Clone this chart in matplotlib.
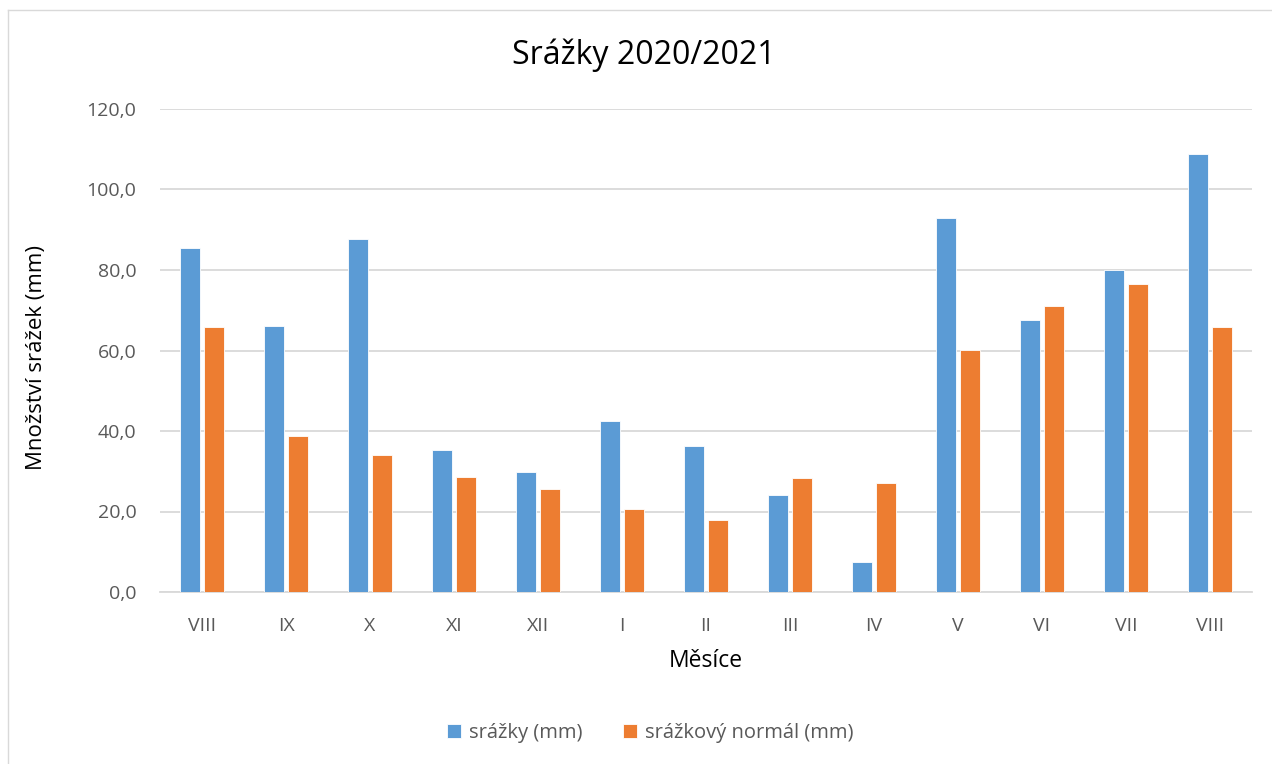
import numpy as np
import matplotlib.pyplot as plt
from matplotlib.lines import Line2D

# data
mesice = ['VIII', 'IX', 'X', 'XI', 'XII', 'I', 'II', 'III', 'IV', 'V', 'VI', 'VII', 'VIII']
srazky = [85.5, 66.2, 87.6, 35.4, 29.9, 42.4, 36.2, 24.2, 7.5, 92.8, 67.7, 80.0, 108.9]
normal = [65.8, 38.7, 34.0, 28.5, 25.7, 20.7, 18.0, 28.4, 27.0, 60.1, 71.0, 76.4, 65.8]
y_ticks = [0, 20, 40, 60, 80, 100, 120]

plt.rcParams['font.family'] = ['Open Sans', 'DejaVu Sans']

W, H = 1272, 764
fig = plt.figure(figsize=(W / 100, H / 100), dpi=100)
ax = fig.add_axes([160 / W, 1 - 592 / H, 1092 / W, 483 / H])

x = np.arange(len(mesice))
w = 0.235
ax.bar(x - 0.145, srazky, w, color='#5B9BD5', edgecolor='white', linewidth=0.6,
       label='srážky (mm)', zorder=3)
ax.bar(x + 0.145, normal, w, color='#ED7D31', edgecolor='white', linewidth=0.6,
       label='srážkový normál (mm)', zorder=3)

ax.set_xlim(-0.5, len(mesice) - 0.5)
ax.set_ylim(0, 120)
ax.set_yticks(y_ticks)
ax.set_yticklabels([f'{v:.1f}'.replace('.', ',') for v in y_ticks])
ax.set_xticks(x)
ax.set_xticklabels(mesice)
ax.tick_params(axis='both', length=0, labelsize=14, colors='#595959')
ax.tick_params(axis='x', pad=18)
ax.tick_params(axis='y', pad=17)
ax.grid(axis='y', color='#D9D9D9', linewidth=1.3, zorder=0)
for s in ['top', 'right', 'left']:
    ax.spines[s].set_visible(False)
ax.spines['bottom'].set_color('#D9D9D9')
ax.spines['bottom'].set_linewidth(1.3)

# title and axis titles placed like in the original chart
fig.text(644 / W, 1 - 55 / H, 'Srážky 2020/2021', fontsize=23, color='black',
         ha='center', va='center')
fig.text(706 / W, 1 - 661 / H, 'Měsíce', fontsize=16.5, color='black',
         ha='center', va='center')
fig.text(37 / W, 1 - 357 / H, 'Množství srážek (mm)', fontsize=16, color='black',
         ha='center', va='center', rotation=90)

ax.legend(loc='center', bbox_to_anchor=(650 / W, 1 - 733 / H), bbox_transform=fig.transFigure,
          ncol=2, frameon=False, fontsize=14.5, labelcolor='#595959',
          handlelength=0.7, handleheight=0.7, handletextpad=0.4, columnspacing=2.0)

# outer chart border (left and top visible)
fig.add_artist(Line2D([8 / W, 8 / W], [0, 1 - 10 / H], color='#D9D9D9', linewidth=1))
fig.add_artist(Line2D([8 / W, 1], [1 - 10 / H, 1 - 10 / H], color='#D9D9D9', linewidth=1))

fig.savefig('out.png', dpi=100)
